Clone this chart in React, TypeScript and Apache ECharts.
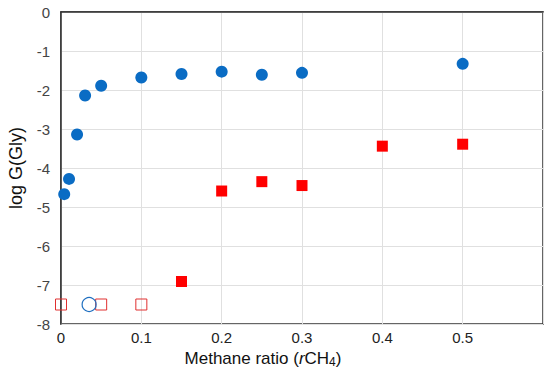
import React, { useEffect, useRef } from "react";
import * as echarts from "echarts";

const blueX = [0.004, 0.01, 0.02, 0.03, 0.05, 0.1, 0.15, 0.2, 0.25, 0.3, 0.5];
const blueY = [-4.67, -4.28, -3.14, -2.14, -1.89, -1.68, -1.59, -1.53, -1.61, -1.56, -1.33];
const redX = [0.15, 0.2, 0.25, 0.3, 0.4, 0.5];
const redY = [-6.91, -4.59, -4.35, -4.45, -3.44, -3.39];
const openRedX = [0, 0.05, 0.1];
const openRedY = [-7.5, -7.5, -7.5];
const openBlueX = [0.035];
const openBlueY = [-7.5];

const zip = (xs: number[], ys: number[]) => xs.map((x, i) => [x, ys[i]]);

export default function App() {
  const ref = useRef<HTMLDivElement>(null);
  useEffect(() => {
    if (!ref.current) return;
    const chart = echarts.init(ref.current, undefined, { renderer: "svg" });
    const font = "Liberation Sans, Arial, Helvetica, sans-serif";
    chart.setOption({
      animation: false,
      grid: {
        left: 61,
        right: 7,
        top: 12,
        bottom: 44,
        outerBoundsMode: "none",
        containLabel: false,
        show: true,
        borderColor: "#333",
        borderWidth: 1.5,
      },
      xAxis: {
        type: "value",
        min: 0,
        max: 0.6,
        interval: 0.1,
        name: "{a|Methane ratio (}{i|r}{a|CH}{s|4}{a|)}",
        nameLocation: "middle",
        nameGap: 11,
        nameTextStyle: {
          padding: [0, 78, 0, 0],
          rich: {
            a: { fontSize: 17, fontFamily: font, color: "#111" },
            i: { fontSize: 17, fontFamily: font, color: "#111", fontStyle: "italic" },
            s: { fontSize: 12, fontFamily: font, color: "#111", verticalAlign: "bottom", padding: [8, 0, 0, 0] },
          },
        },
        axisLine: { show: true, lineStyle: { color: "#333", width: 1.5 } },
        axisTick: { show: false },
        splitLine: { show: true, lineStyle: { color: "#e0e0e0", width: 1 } },
        axisLabel: {
          showMaxLabel: false,
          fontSize: 15,
          fontFamily: font,
          color: "#222",
          margin: 6,
          formatter: (v: number) => (v === 0 ? "0" : String(Math.round(v * 10) / 10)),
        },
      },
      yAxis: {
        type: "value",
        min: -8,
        max: 0,
        interval: 1,
        name: "log G(Gly)",
        nameLocation: "middle",
        nameGap: 36,
        nameRotate: 90,
        nameTextStyle: { fontSize: 18, fontFamily: font, color: "#111" },
        axisLine: { show: true, lineStyle: { color: "#333", width: 1.5 } },
        axisTick: { show: false },
        splitLine: { show: true, lineStyle: { color: "#e0e0e0", width: 1 } },
        axisLabel: { fontSize: 15, fontFamily: font, color: "#444", margin: 11 },
      },
      series: [
        {
          type: "scatter",
          data: zip(blueX, blueY),
          symbol: "circle",
          symbolSize: 12,
          itemStyle: { color: "#0a6cc4", opacity: 1 },
        },
        {
          type: "scatter",
          data: zip(redX, redY),
          symbol: "rect",
          symbolSize: 11,
          itemStyle: { color: "#ff0000", opacity: 1 },
        },
        {
          type: "scatter",
          data: zip(openRedX, openRedY),
          symbol: "rect",
          symbolSize: 11,
          itemStyle: { color: "transparent", borderColor: "#e03030", borderWidth: 1, opacity: 1 },
        },
        {
          type: "scatter",
          data: zip(openBlueX, openBlueY),
          symbol: "circle",
          symbolSize: 14,
          itemStyle: { color: "transparent", borderColor: "#1f6fc0", borderWidth: 1.2, opacity: 1 },
        },
      ],
    });
    return () => chart.dispose();
  }, []);
  return <div ref={ref} style={{ width: 550, height: 368, position: "absolute", left: 0, top: 0 }} />;
}
